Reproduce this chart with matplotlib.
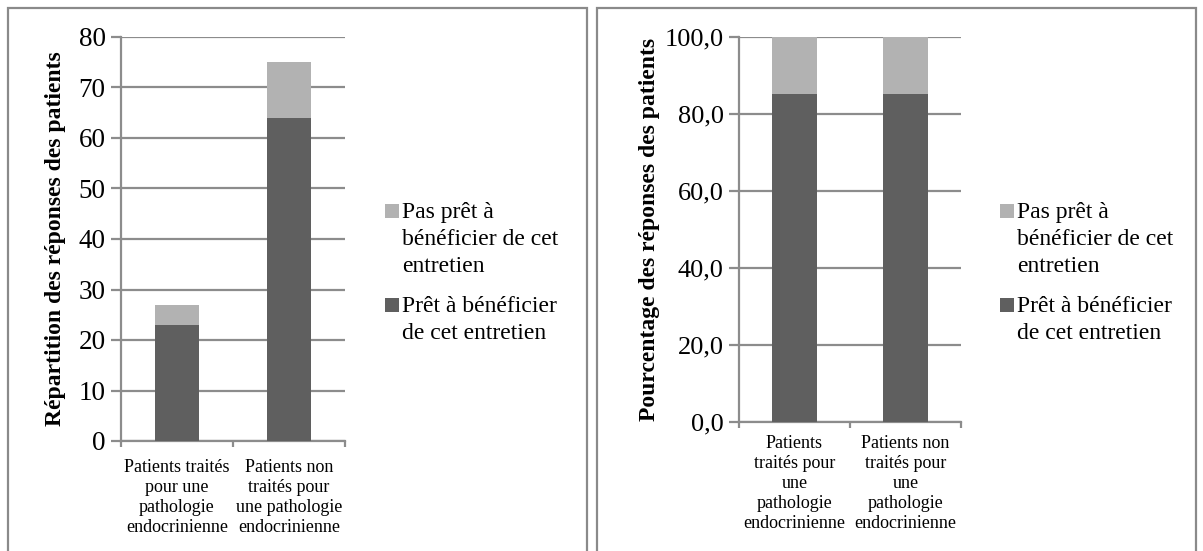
import matplotlib
matplotlib.use("Agg")
import matplotlib.pyplot as plt
from matplotlib.patches import Rectangle

plt.rcParams['font.family'] = ['Liberation Serif', 'DejaVu Serif']

# data
categories_left = ["Patients traités\npour une\npathologie\nendocrinienne",
                   "Patients non\ntraités pour\nune pathologie\nendocrinienne"]
categories_right = ["Patients\ntraités pour\nune\npathologie\nendocrinienne",
                    "Patients non\ntraités pour\nune\npathologie\nendocrinienne"]
pret_counts = [23, 64]
pas_pret_counts = [4, 11]
pret_pct = [85.2, 85.3]
pas_pret_pct = [14.8, 14.7]
yticks_left = [0, 10, 20, 30, 40, 50, 60, 70, 80]
yticks_right = [0, 20, 40, 60, 80, 100]

label_pas = ["Pas prêt à", "bénéficier de cet", "entretien"]
label_pret = ["Prêt à bénéficier", "de cet entretien"]

dark = '#5f5f5f'
light = '#b2b2b2'
grid_col = '#8c8c8c'

W, H = 1203, 551
fig = plt.figure(figsize=(W / 100, H / 100), dpi=100)

# panel frames
for x0, x1 in [(8, 587), (597, 1196)]:
    fig.add_artist(Rectangle((x0 / W, -0.05), (x1 - x0) / W, (H - 8) / H + 0.05,
                             transform=fig.transFigure, fill=False,
                             edgecolor='#8a8a8a', linewidth=1.6))


def draw_panel(ax, cats, pret, pas, ticks, fmt, ylabel, ylab_x, tick_fs, xpad):
    x = range(len(cats))
    ax.bar(x, pret, width=0.40, color=dark, zorder=3)
    ax.bar(x, pas, width=0.40, bottom=pret, color=light, zorder=3)
    ax.set_xlim(-0.5, len(cats) - 0.5)
    ax.set_ylim(ticks[0], ticks[-1])
    ax.set_yticks(ticks)
    ax.set_yticklabels([fmt(t) for t in ticks], fontsize=tick_fs)
    ax.yaxis.grid(True, color=grid_col, linewidth=1.6, zorder=0)
    ax.set_xticks(list(x))
    ax.set_xticklabels(cats, fontsize=13, linespacing=1.22)
    ax.set_xticks([-0.5, 0.5, len(cats) - 0.5], minor=True)
    ax.tick_params(axis='x', which='major', length=0, pad=xpad)
    ax.tick_params(axis='x', which='minor', length=4, width=1.6, color=grid_col)
    ax.tick_params(axis='y', length=7, width=1.6, color=grid_col, pad=4)
    for s in ['top', 'right']:
        ax.spines[s].set_visible(False)
    for s in ['left', 'bottom']:
        ax.spines[s].set_color(grid_col)
        ax.spines[s].set_linewidth(1.6)
    ax.set_ylabel(ylabel, fontsize=17, fontweight='bold')
    ax.yaxis.set_label_coords(ylab_x, 0.5)


ax1 = fig.add_axes([121 / W, 1 - 441 / H, 224 / W, (441 - 37) / H])
draw_panel(ax1, categories_left, pret_counts, pas_pret_counts, yticks_left,
           lambda t: f"{t}", "Répartition des réponses des patients", -0.245, 19.5, 13)

ax2 = fig.add_axes([739 / W, 1 - 422 / H, 222 / W, (422 - 37) / H])
draw_panel(ax2, categories_right, pret_pct, pas_pret_pct, yticks_right,
           lambda t: f"{t:.1f}".replace('.', ','), "Pourcentage des réponses des patients",
           -0.356, 19, 9.5)

# legends: square beside the first line of each entry, as in the original
for sq_x in [385, 1000]:
    for color, lines, base in [(light, label_pas, 218), (dark, label_pret, 312)]:
        fig.add_artist(Rectangle((sq_x / W, 1 - base / H), 14 / W, 14 / H,
                                 transform=fig.transFigure, color=color, linewidth=0))
        for i, line in enumerate(lines):
            fig.text((sq_x + 17) / W, 1 - (base + 27 * i) / H, line, fontsize=17,
                     ha='left', va='baseline')

fig.savefig("out.png", dpi=100)
